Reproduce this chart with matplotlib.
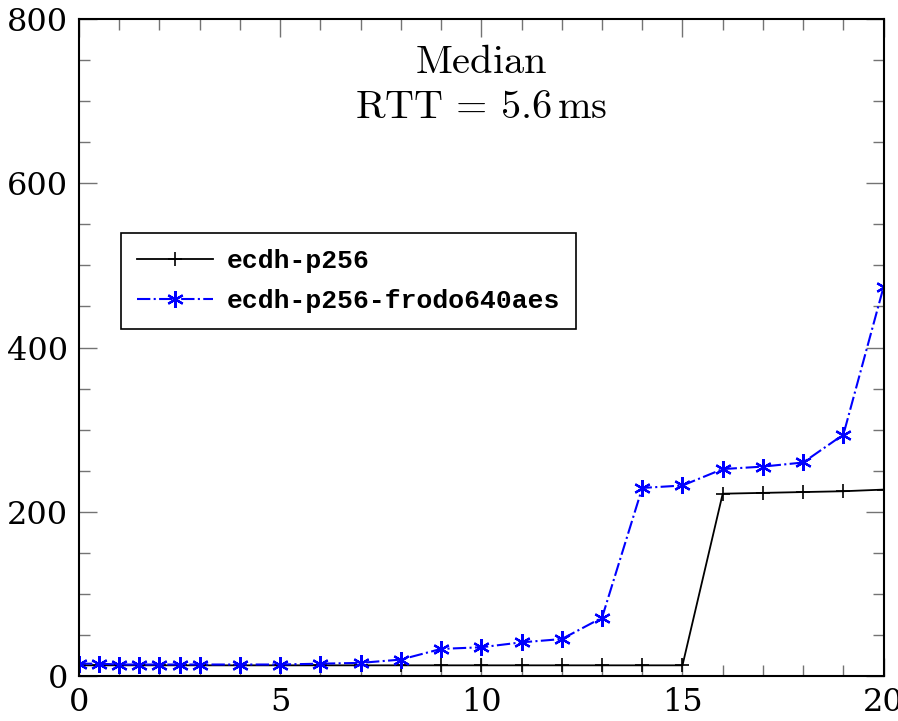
import numpy as np
import matplotlib
matplotlib.use("Agg")
import matplotlib.pyplot as plt
from matplotlib.ticker import MultipleLocator

plt.rcParams["mathtext.fontset"] = "cm"

# data
x = [0, 0.5, 1, 1.5, 2, 2.5, 3, 4, 5, 6, 7, 8, 9, 10, 11, 12, 13, 14, 15, 16, 17, 18, 19, 20]
ecdh = [13, 13, 13, 13, 13, 13, 13, 13, 13, 13, 13, 13, 13, 13, 13, 13, 13, 13, 13,
        222, 223, 224, 225, 227]
frodo = [15, 15, 14, 14, 14, 14, 14, 14, 14, 15, 16, 20, 33, 35, 41, 45, 71, 229, 232,
         252, 255, 260, 294, 474]
labels = ["ecdh-p256", "ecdh-p256-frodo640aes"]

fig = plt.figure(figsize=(8.98, 7.21), dpi=100)
ax = fig.add_axes([0.088, 0.0624, 0.896, 0.9112])

asterisk = (6, 2, 0)
ax.plot(x, ecdh, color="black", lw=1.3, marker="+", ms=10, mew=1.2, label=labels[0])
ax.plot(x, frodo, color="#0000ff", lw=1.5, ls="-.", marker=asterisk, ms=12, mew=1.6,
        label=labels[1])

ax.set_xlim(0, 20)
ax.set_ylim(0, 800)
ax.xaxis.set_major_locator(MultipleLocator(5))
ax.xaxis.set_minor_locator(MultipleLocator(1))
ax.yaxis.set_major_locator(MultipleLocator(200))
ax.yaxis.set_minor_locator(MultipleLocator(50))
ax.tick_params(which="both", direction="in", top=True, right=True, color="0.45")
ax.tick_params(which="major", length=13, width=1.0, labelsize=23, pad=8)
ax.tick_params(which="minor", length=8, width=1.0)
for lab in ax.get_xticklabels() + ax.get_yticklabels():
    lab.set_family("DejaVu Serif")
for s in ax.spines.values():
    s.set_linewidth(1.5)

ax.text(0.5, 0.935, r"$\mathrm{Median}$", transform=ax.transAxes, ha="center",
        va="center", fontsize=29)
ax.text(0.5, 0.866, r"$\mathrm{RTT}\,=\,5.6\,\mathrm{ms}$", transform=ax.transAxes,
        ha="center", va="center", fontsize=29)

leg = ax.legend(loc="upper left", bbox_to_anchor=(0.052, 0.674), borderaxespad=0,
                fancybox=False, edgecolor="black", framealpha=1, numpoints=1,
                prop={"family": "Liberation Mono", "weight": "bold", "size": 19},
                handlelength=2.9, handletextpad=0.5, labelspacing=0.6, borderpad=0.6)
leg.get_frame().set_linewidth(1.2)

fig.savefig("out.png", dpi=100)
